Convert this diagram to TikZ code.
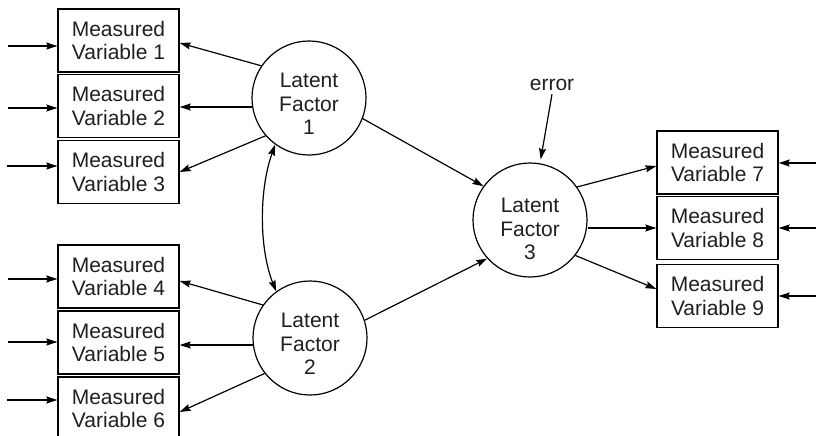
\documentclass[tikz,border=0pt]{standalone}
\usepackage{fontspec}
\setmainfont{Liberation Sans}
\usetikzlibrary{arrows.meta}
\begin{document}
\begin{tikzpicture}[x=1pt,y=-1pt,
  every node/.style={font=\fontsize{21}{23.5}\selectfont, text=black!88},
  mvar/.style={draw, line width=1.3pt, minimum width=121pt, minimum height=63pt, inner sep=0pt, align=center},
  factor/.style={draw, circle, line width=1.2pt, minimum size=114pt, inner sep=0pt},
  link/.style={-{Stealth[length=11pt,width=7pt,inset=1.5pt]}, line width=1.2pt},
  dlink/.style={{Stealth[length=11pt,width=7pt,inset=1.5pt]}-{Stealth[length=11pt,width=7pt,inset=1.5pt]}, line width=1.2pt},
]
\useasboundingbox (0,0) rectangle (816,436);
\clip (0,0) rectangle (816,436);

% measured variables
\node[mvar] (b1) at (118.5,40.5) {Measured\\Variable 1};
\node[mvar] (b2) at (118.5,106) {Measured\\Variable 2};
\node[mvar] (b3) at (118.5,172) {Measured\\Variable 3};
\node[mvar] (b4) at (118.5,276.5) {Measured\\Variable 4};
\node[mvar] (b5) at (118.5,342.5) {Measured\\Variable 5};
\node[mvar] (b6) at (118.5,408.5) {Measured\\Variable 6};
\node[mvar] (b7) at (717.5,162.5) {Measured\\Variable 7};
\node[mvar] (b8) at (717.5,228) {Measured\\Variable 8};
\node[mvar] (b9) at (717.5,296) {Measured\\Variable 9};

% latent factors
\node[factor, label={[name=t1,align=center,yshift=-6pt]center:Latent\\Factor\\1}] (f1) at (309,98) {};
\node[factor, label={[name=t2,align=center,yshift=-6pt]center:Latent\\Factor\\2}] (f2) at (310,338) {};
\node[factor, label={[name=t3,align=center,yshift=-9pt]center:Latent\\Factor\\3}] (f3) at (530,220) {};

\node (err) at (552,85) {error};

% residual inputs
\coordinate (i1) at (8,46);
\coordinate (i2) at (8,108);
\coordinate (i3) at (7,166);
\coordinate (i4) at (8,279);
\coordinate (i5) at (8,342);
\coordinate (i6) at (7,400);
\coordinate (i7) at (816,163);
\coordinate (i8) at (816,228);
\coordinate (i9) at (816,296);
\foreach \k/\s in {1/west,2/west,3/west,4/west,5/west,6/west,7/east,8/east,9/east}
  \draw[link] (i\k) -- (i\k -| b\k.\s);

% loadings
\draw[link] (f1.146) -- ([yshift=-2.5pt]b1.east);
\draw[link] (f1.189) -- (f1.189 -| b2.east);
\draw[link] (f1.221) -- (b3.east);
\draw[link] (f2.145) -- ([yshift=-4.5pt]b4.east);
\draw[link] (f2.187) -- (f2.187 -| b5.east);
\draw[link] (f2.218) -- ([yshift=-3.5pt]b6.east);
\draw[link] (f3.35) -- ([yshift=-3.5pt]b7.west);
\draw[link] (f3.east |- b8.west) -- (b8.west);
\draw[link] (f3.322) -- ([yshift=7pt]b9.west);

% structural paths
\draw[link] (f1.339) -- (f3.144);
\draw[link] (f2.18) -- (f3.222);
\draw[link, shorten >=4pt] (err.south) -- (f3.80);
\draw[dlink] (f1.234) .. controls (259,190) and (259,248) .. (f2.126);
\end{tikzpicture}
\end{document}
